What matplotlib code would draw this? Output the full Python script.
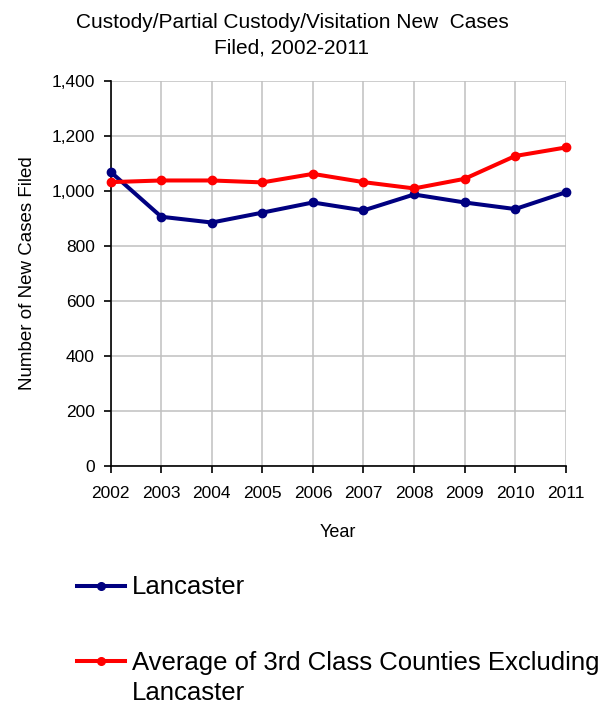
import matplotlib
matplotlib.use("Agg")
import matplotlib.pyplot as plt
from matplotlib.lines import Line2D
from matplotlib.ticker import FuncFormatter

plt.rcParams['font.family'] = ['Liberation Sans', 'DejaVu Sans']

years = [2002, 2003, 2004, 2005, 2006, 2007, 2008, 2009, 2010, 2011]
lancaster = [1068, 905, 884, 920, 957, 928, 986, 957, 933, 994]
third_class_avg = [1031, 1037, 1037, 1030, 1061, 1031, 1008, 1043, 1126, 1157]
series_names = ['Lancaster', 'Average of 3rd Class Counties Excluding\nLancaster']
yticks = [0, 200, 400, 600, 800, 1000, 1200, 1400]

W, H = 604, 708
fig = plt.figure(figsize=(W / 100, H / 100), dpi=100)
# axes box in pixels: left 110.7, right 565.7, top 80.7, bottom 465.5
ax = fig.add_axes([110.7 / W, 1 - 465.5 / H, (565.7 - 110.7) / W, (465.5 - 80.7) / H])

blue = '#000080'
red = '#FF0000'
ax.plot(years, lancaster, color=blue, lw=2.9, marker='o', ms=6, clip_on=False, zorder=3)
ax.plot(years, third_class_avg, color=red, lw=2.9, marker='o', ms=6, clip_on=False, zorder=4)

ax.set_xlim(years[0], years[-1])
ax.set_ylim(0, 1400)
ax.set_xticks(years)
ax.set_xticklabels([str(y) for y in years])
ax.set_yticks(yticks)
ax.yaxis.set_major_formatter(FuncFormatter(lambda v, p: f'{int(v):,}'))

ax.grid(True, color='#C0C0C0', lw=1.1)
ax.set_axisbelow(True)
for s in ['top', 'right']:
    ax.spines[s].set_visible(False)
for s in ['left', 'bottom']:
    ax.spines[s].set_linewidth(1.2)
    ax.spines[s].set_color('black')

ax.tick_params(axis='both', direction='out', length=5, width=1.2, labelsize=12.5, colors='black')
ax.tick_params(axis='y', pad=6.5)
ax.tick_params(axis='x', pad=10)

ax.set_xlabel('Year', fontsize=13, labelpad=16)
ax.set_ylabel('Number of New Cases Filed', fontsize=13.5, labelpad=11)

# baseline alignment goes by the last line of the text
fig.text(292 / W, 1 - 54 / H, 'Custody/Partial Custody/Visitation New  Cases\nFiled, 2002-2011',
         ha='center', va='baseline', fontsize=15, linespacing=1.45, multialignment='center')

# legend below the chart
for color, name, ly, by in [(blue, series_names[0], 586, 594), (red, series_names[1], 661, 700)]:
    fig.add_artist(Line2D([77 / W, 125 / W], [1 - ly / H, 1 - ly / H], color=color, lw=2.9,
                          transform=fig.transFigure))
    fig.add_artist(Line2D([101 / W], [1 - ly / H], color=color, marker='o', ms=5.5,
                          transform=fig.transFigure))
    fig.text(131.7 / W, 1 - by / H, name, ha='left', va='baseline', fontsize=18.5, linespacing=1.33)

fig.savefig('out.png', dpi=100)
